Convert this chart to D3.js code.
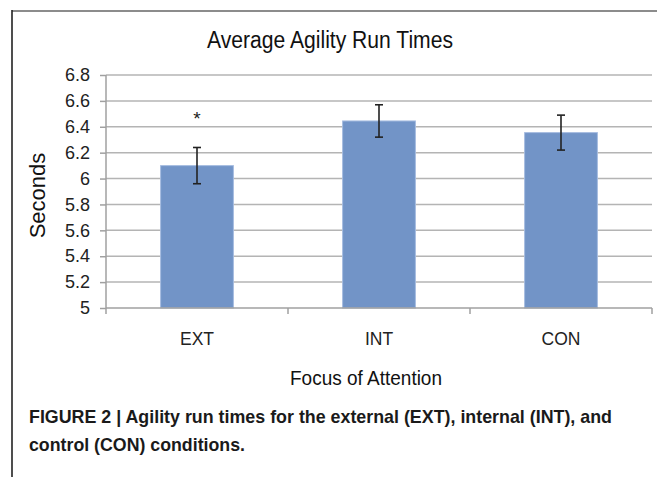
<!DOCTYPE html>
<html>
<head>
<meta charset="utf-8">
<script src="https://cdn.jsdelivr.net/npm/d3@7"></script>
<style>
  html, body { margin: 0; padding: 0; background: #fff; }
  svg { display: block; }
</style>
</head>
<body>
<svg id="chart" width="657" height="477"></svg>
<script>
const categories = ["EXT", "INT", "CON"];
const means = [6.10, 6.445, 6.355];
const errors = [0.14, 0.125, 0.135];
const significance = ["*", "", ""];
const yTicks = [5, 5.2, 5.4, 5.6, 5.8, 6, 6.2, 6.4, 6.6, 6.8];
const titleText = "Average Agility Run Times";
const yAxisTitle = "Seconds";
const xAxisTitle = "Focus of Attention";
const captionLines = [
  "FIGURE 2 | Agility run times for the external (EXT), internal (INT), and",
  "control (CON) conditions."
];

const svg = d3.select("#chart");
const W = 657, H = 477;
const plot = { left: 106, right: 652, top: 75, bottom: 308 };
const font = "'Liberation Sans', Arial, Helvetica, sans-serif";

// frame
svg.append("line").attr("x1", 12).attr("x2", W).attr("y1", 11).attr("y2", 11)
  .attr("stroke", "#8c8c8c").attr("stroke-width", 2);
svg.append("line").attr("x1", 12).attr("x2", 12).attr("y1", 10).attr("y2", H)
  .attr("stroke", "#222").attr("stroke-width", 1.6);

const x = d3.scaleBand().domain(categories).range([plot.left, plot.right]).paddingInner(0).paddingOuter(0);
const y = d3.scaleLinear().domain([5, 6.8]).range([plot.bottom, plot.top]);

// gridlines
svg.append("g").selectAll("line").data(yTicks.filter(d => d > 5)).join("line")
  .attr("x1", plot.left).attr("x2", plot.right)
  .attr("y1", d => y(d)).attr("y2", d => y(d))
  .attr("stroke", "#b4b4b4").attr("stroke-width", 1.5);

// y axis
const yAxis = d3.axisLeft(y).tickValues(yTicks).tickSize(6).tickPadding(10)
  .tickFormat(d => d3.format("")(+d.toFixed(1)));
const gy = svg.append("g").attr("transform", `translate(${plot.left},0)`).call(yAxis);
gy.select(".domain").attr("stroke", "#a0a0a0").attr("stroke-width", 1.5).attr("d", `M-0,${plot.top}V${plot.bottom}`);
gy.selectAll(".tick line").attr("stroke", "#a0a0a0").attr("stroke-width", 1.5);
gy.selectAll(".tick text").attr("font-family", font).attr("font-size", 18).attr("fill", "#222");

// bars
const barW = x.bandwidth() * 0.4;
svg.append("g").selectAll("rect").data(categories).join("rect")
  .attr("x", d => x(d) + (x.bandwidth() - barW) / 2)
  .attr("y", (d, i) => y(means[i]))
  .attr("width", barW)
  .attr("height", (d, i) => y(5) - y(means[i]))
  .attr("fill", "#7294c7")
  .attr("stroke", "#a6bce0").attr("stroke-width", 1);

// x axis
const gx = svg.append("g").attr("transform", `translate(0,${plot.bottom})`);
gx.append("line").attr("x1", plot.left).attr("x2", plot.right).attr("y1", 0).attr("y2", 0)
  .attr("stroke", "#a0a0a0").attr("stroke-width", 1.5);
const bounds = categories.map(c => x(c)).concat([x(categories[categories.length - 1]) + x.bandwidth()]);
gx.selectAll("line.tk").data(bounds).join("line").attr("class", "tk")
  .attr("x1", d => d).attr("x2", d => d).attr("y1", 0).attr("y2", 6)
  .attr("stroke", "#a0a0a0").attr("stroke-width", 1.5);
gx.selectAll("text").data(categories).join("text")
  .attr("x", d => x(d) + x.bandwidth() / 2).attr("y", 37)
  .attr("text-anchor", "middle").attr("font-family", font).attr("font-size", 17.5).attr("fill", "#222")
  .text(d => d);

// error bars
const eb = svg.append("g").attr("stroke", "#222").attr("stroke-width", 1.6);
categories.forEach((c, i) => {
  const cx = x(c) + x.bandwidth() / 2;
  const t = y(means[i] + errors[i]), b = y(means[i] - errors[i]);
  eb.append("line").attr("x1", cx).attr("x2", cx).attr("y1", t).attr("y2", b);
  eb.append("line").attr("x1", cx - 4).attr("x2", cx + 4).attr("y1", t).attr("y2", t);
  eb.append("line").attr("x1", cx - 4).attr("x2", cx + 4).attr("y1", b).attr("y2", b);
});

// significance marks
svg.append("g").selectAll("text").data(categories).join("text")
  .attr("x", d => x(d) + x.bandwidth() / 2)
  .attr("y", (d, i) => y(means[i] + errors[i]) - 22)
  .attr("text-anchor", "middle").attr("font-family", font).attr("font-size", 19).attr("fill", "#222")
  .text((d, i) => significance[i]);

// titles
svg.append("text").attr("x", 330).attr("y", 48).attr("text-anchor", "middle")
  .attr("font-family", font).attr("font-size", 23.5).attr("fill", "#111")
  .attr("textLength", 246).attr("lengthAdjust", "spacingAndGlyphs").text(titleText);
svg.append("text").attr("transform", `translate(45,${(plot.top + plot.bottom) / 2 + 4}) rotate(-90)`)
  .attr("text-anchor", "middle").attr("font-family", font).attr("font-size", 22).attr("fill", "#111").text(yAxisTitle);
svg.append("text").attr("x", 366).attr("y", 385).attr("text-anchor", "middle")
  .attr("font-family", font).attr("font-size", 21).attr("fill", "#111")
  .attr("textLength", 152).attr("lengthAdjust", "spacingAndGlyphs").text(xAxisTitle);

// caption
const capFont = "'Liberation Sans Narrow', 'Arial Narrow', 'Liberation Sans', Arial, sans-serif";
const capLengths = [583, 216];
svg.append("g").selectAll("text").data(captionLines).join("text")
  .attr("x", 29).attr("y", (d, i) => 423 + i * 28)
  .attr("font-family", capFont).attr("font-weight", "bold").attr("font-size", 19).attr("fill", "#1a1a1a")
  .attr("textLength", (d, i) => capLengths[i]).attr("lengthAdjust", "spacingAndGlyphs")
  .text(d => d);
</script>
</body>
</html>
